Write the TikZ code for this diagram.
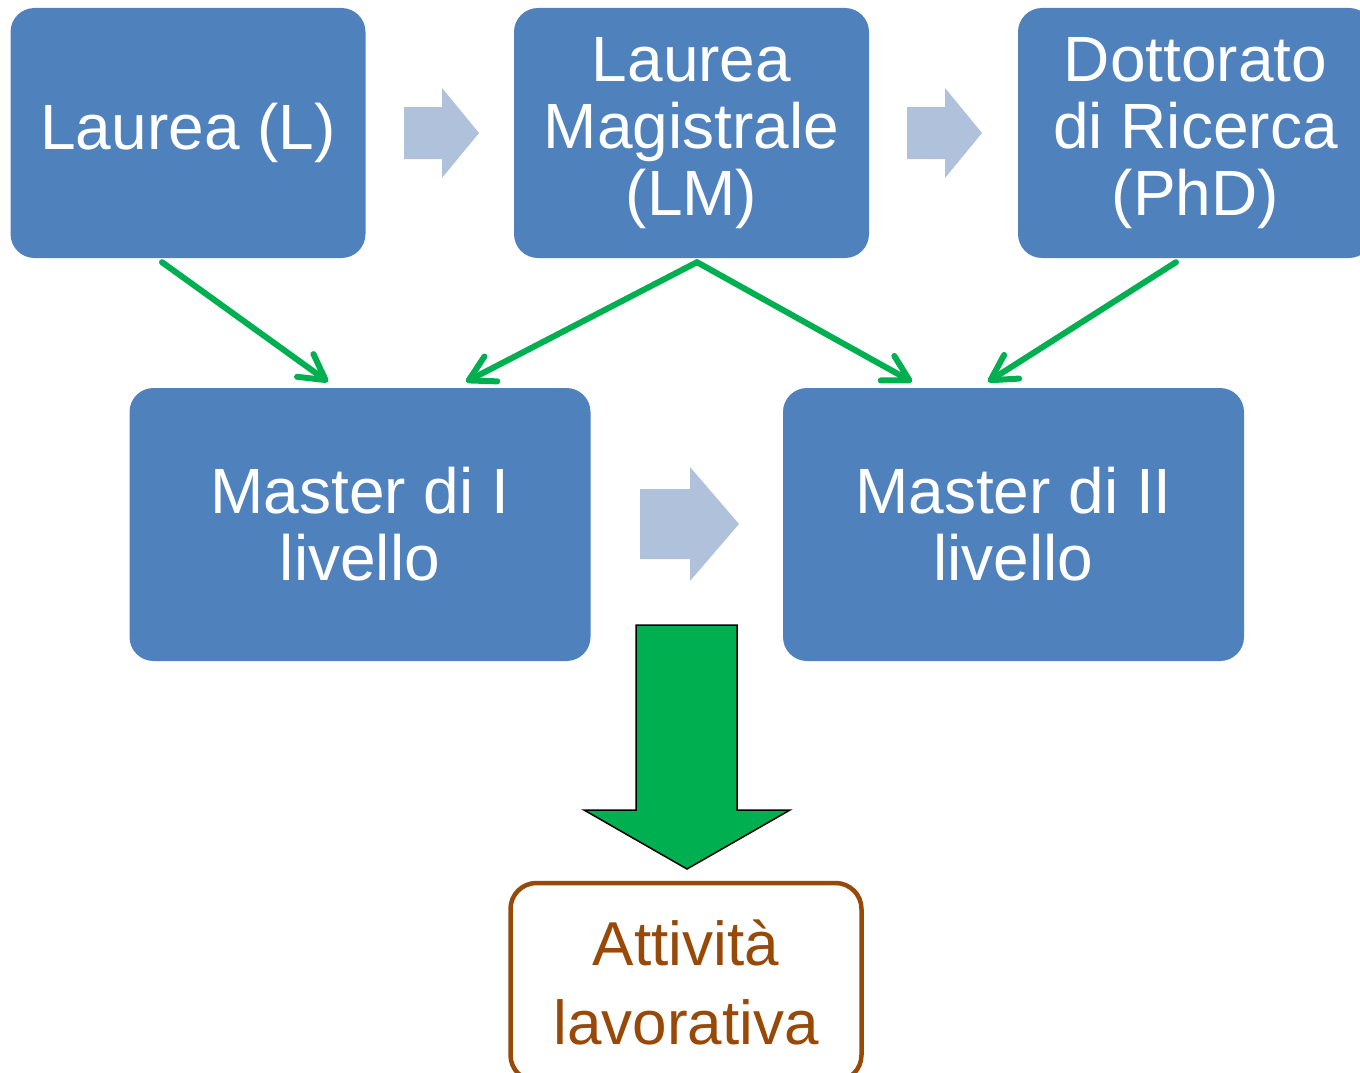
\documentclass[tikz,border=0pt]{standalone}
\usepackage{fontspec}
\setmainfont{Liberation Sans}
\usetikzlibrary{arrows.meta}
\definecolor{boxblue}{HTML}{4F81BD}
\definecolor{lightarr}{HTML}{B0C1DC}
\definecolor{okgreen}{HTML}{00B050}
\definecolor{brown}{HTML}{984807}
\tikzset{
  bluebox/.style={fill=boxblue, rounded corners=24pt, text=white, align=center,
    font=\fontsize{64}{67}\selectfont, inner sep=0pt},
  topbox/.style={bluebox, minimum width=355pt, minimum height=250pt},
  masterbox/.style={bluebox, minimum width=461pt, minimum height=273pt},
  workbox/.style={draw=brown, line width=4.5pt, rounded corners=26pt, text=brown, align=center,
    font=\fontsize{62}{79}\selectfont, minimum width=351pt, minimum height=198pt, inner sep=0pt},
  link/.style={draw=okgreen, line width=6pt, line cap=round,
    -{Straight Barb[length=25pt,width=28pt,line cap=round,line join=round]}},
  blockarr/.style={fill=lightarr},
}
\begin{document}
\begin{tikzpicture}[x=1pt,y=-1pt]
\useasboundingbox (0,0) rectangle (1360,1073);
\clip (0,0) rectangle (1360,1073);
\node[topbox] (L) at (188,133) {Laurea (L)};
\node[topbox] (LM) at (691.5,133) {Laurea\\Magistrale\\(LM)};
\node[topbox] (PhD) at (1195.5,133) {Dottorato\\di Ricerca\\(PhD)};
\node[masterbox] (M1) at (360,524.5) {Master di I\\livello};
\node[masterbox] (M2) at (1013.5,524.5) {Master di II\\livello};
\node[workbox] (W) at (686,982) {Attività\\lavorativa};
% light block arrows
\fill[blockarr] (404,107) -- (442,107) -- (442,88) -- (479,133) -- (442,178) -- (442,159) -- (404,159) -- cycle;
\fill[blockarr] (907,107) -- (945,107) -- (945,88) -- (982,133) -- (945,178) -- (945,159) -- (907,159) -- cycle;
\fill[blockarr] (640,489) -- (690,489) -- (690,467) -- (739,524) -- (690,581) -- (690,559) -- (640,559) -- cycle;
% green connectors
\draw[link] ([xshift=-26pt,yshift=-4pt]L.south) -- ([xshift=-32pt,yshift=6pt]M1.north);
\draw[link] ([xshift=5.5pt,yshift=-4pt]LM.south) -- ([xshift=106pt,yshift=6pt]M1.north);
\draw[link] ([xshift=5.5pt,yshift=-4pt]LM.south) -- ([xshift=-101.5pt,yshift=6pt]M2.north);
\draw[link] ([xshift=-19.5pt,yshift=-4pt]PhD.south) -- ([xshift=-25.5pt,yshift=6pt]M2.north);
% big green down arrow
\filldraw[fill=okgreen, draw=black, line width=1.5pt, line join=miter]
  (636,625) -- (737,625) -- (737,810) -- (790,810) -- (687,869) -- (584,810) -- (636,810) -- cycle;
\end{tikzpicture}
\end{document}
